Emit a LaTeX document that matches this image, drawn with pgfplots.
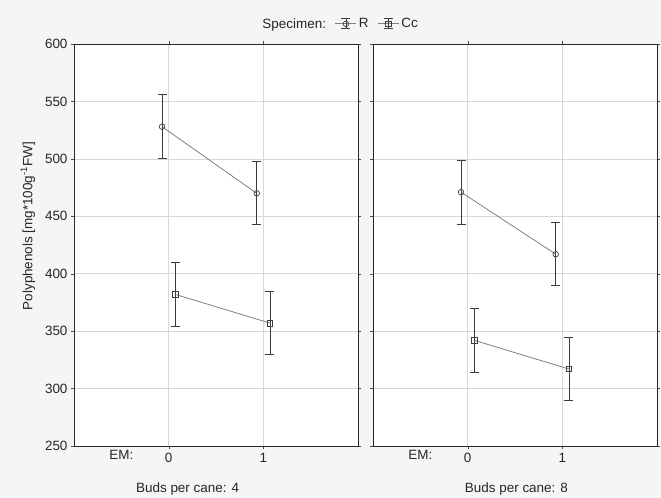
\documentclass[border=0pt]{standalone}
\usepackage{fontspec}
\setmainfont{Liberation Sans}
\usepackage{pgfplots}
\pgfplotsset{compat=1.18}
\definecolor{bg}{RGB}{244,245,247}
\definecolor{gridc}{RGB}{215,215,215}
\definecolor{linec}{RGB}{128,128,128}
\definecolor{errc}{RGB}{60,60,60}
\newcommand{\fs}{\fontsize{13.5}{16}\selectfont}
\pgfplotsset{
 panel/.style={
  scale only axis, width=284bp, height=402bp,
  xmin=-1, xmax=2, ymin=250, ymax=600,
  xtick={0,1}, ytick={250,300,...,600},
  grid=major, grid style={gridc, line width=0.6pt},
  axis line style={black!85, line width=0.7pt},
  tick align=outside, major tick length=3bp, tick style={black!70},
  /pgf/number format/assume math mode=true,
  tick label style={font=\fs, text=black!85},
  label style={font=\fs, text=black!85},
  axis background/.style={fill=white},
  extra x ticks={-0.5}, extra x tick labels={EM:},
  extra x tick style={grid=none, major tick length=0pt},
  xticklabel style={yshift=-1bp},
 },
 rser/.style={linec, line width=0.8pt, mark=o, mark size=2.8bp,
  mark options={errc, solid, line width=0.7pt},
  error bars/.cd, y dir=both, y explicit,
  error bar style={errc, line width=0.8pt},
  error mark options={rotate=90, errc, mark size=4.5bp, line width=0.8pt}},
 cser/.style={linec, line width=0.8pt, mark=square, mark size=2.8bp,
  mark options={errc, solid, line width=0.7pt},
  error bars/.cd, y dir=both, y explicit,
  error bar style={errc, line width=0.8pt},
  error mark options={rotate=90, errc, mark size=4.5bp, line width=0.8pt}},
}
\begin{document}
\begin{tikzpicture}
\fill[bg] (0,0) rectangle (661bp,498bp);
\path[use as bounding box] (0,0) rectangle (661bp,498bp);
\begin{axis}[panel, at={(74bp,52bp)}, anchor=south west,
  ylabel={Polyphenols [mg*100g\textsuperscript{-1}FW]},
  ylabel style={at={(axis description cs:-0.162,0.547)}, anchor=center},
  xlabel={Buds per cane: 4},
  xlabel style={at={(axis description cs:0.40,0)}, anchor=center, yshift=-43bp},
  legend columns=3,
  legend style={draw=none, fill=none, at={(axis description cs:0.937,1.05)}, anchor=center,
    font=\fs, text=black!85,
    /tikz/every even column/.append style={column sep=7bp}},
  legend entries={Specimen:,R,Cc},
]
\addlegendimage{empty legend}
\addplot[legend image code/.code={
  \draw[linec,line width=0.8pt] (0bp,0bp) -- (21bp,0bp);
  \draw[errc,line width=0.8pt] (10.5bp,-5bp) -- (10.5bp,5bp) (6bp,-5bp) -- (15bp,-5bp) (6bp,5bp) -- (15bp,5bp);
  \draw[errc,line width=0.7pt] (10.5bp,0bp) circle (2.8bp);
}, rser] coordinates {(-0.07,528) +- (0,28) (0.93,470) +- (0,27.5)};
\addplot[legend image code/.code={
  \draw[linec,line width=0.8pt] (0bp,0bp) -- (21bp,0bp);
  \draw[errc,line width=0.8pt] (10.5bp,-5bp) -- (10.5bp,5bp) (6bp,-5bp) -- (15bp,-5bp) (6bp,5bp) -- (15bp,5bp);
  \draw[errc,line width=0.7pt] (7.7bp,-2.8bp) rectangle (13.3bp,2.8bp);
}, cser] coordinates {(0.07,382) +- (0,28) (1.07,357) +- (0,27.5)};
\end{axis}
\begin{axis}[panel, at={(373bp,52bp)}, anchor=south west,
  yticklabels={},
  xlabel={Buds per cane: 8},
  xlabel style={at={(axis description cs:0.505,0)}, anchor=center, yshift=-43bp},
]
\addplot[rser] coordinates {(-0.07,471) +- (0,28) (0.93,417) +- (0,27.5)};
\addplot[cser] coordinates {(0.07,342) +- (0,28) (1.07,317) +- (0,27.5)};
\end{axis}
\end{tikzpicture}
\end{document}
